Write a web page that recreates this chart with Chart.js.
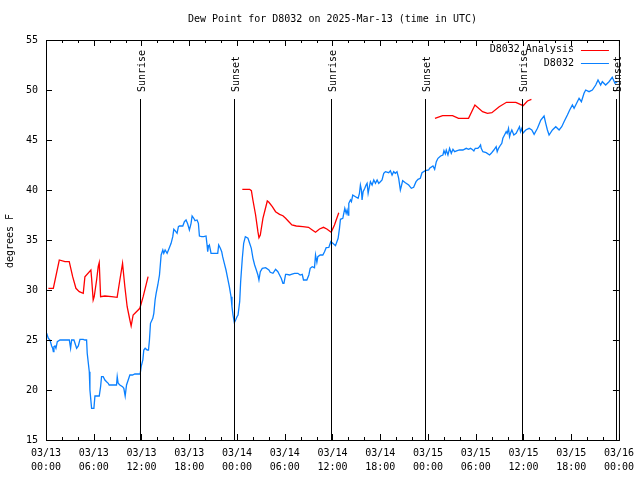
<!DOCTYPE html>
<html>
<head>
<meta charset="utf-8">
<title>Dew Point D8032</title>
<script src="https://cdn.jsdelivr.net/npm/chart.js@4.4.1/dist/chart.umd.min.js"></script>
<style>
  body { margin: 0; background: #ffffff; }
  canvas { display: block; }
</style>
</head>
<body>
<canvas id="graficoOrvalho" width="640" height="480"></canvas>
<script>
// 1. DADOS (horas desde 03/13 00:00 UTC)
const tempoModelo = [0.3, 0.92, 1.67, 2.38, 2.92, 3.35, 3.76, 4.18, 4.68, 4.89, 5.64, 5.73, 5.93, 6.06, 6.36, 6.56, 6.69, 6.86, 7.40, 8.24, 8.94, 9.28, 9.62, 9.70, 9.91, 10.20, 10.54, 10.70, 10.95, 11.79, 12.21, 12.83,
  18,
  24.67, 25.59, 25.81, 26.00, 26.34, 26.63, 26.76, 26.93, 27.26, 27.81, 28.01, 28.44, 28.85, 29.35, 29.77, 30.11, 30.52, 30.90, 31.45, 32.28, 32.99, 33.46, 33.87, 34.37, 34.87, 35.29, 35.84, 36.25, 36.79,
  42,
  48.88, 49.84, 51.09, 51.84, 53.10, 53.90, 54.86, 55.48, 56.03, 56.95, 57.87, 59.04, 59.96, 60.50, 61.00];
const orvalhoModelo = [30.17, 30.17, 33.0, 32.83, 32.83, 31.33, 30.17, 29.83, 29.67, 31.33, 32.0, 31.17, 29.0, 29.33, 31.0, 32.33, 32.73, 29.33, 29.4, 29.33, 29.27, 31.0, 32.67, 32.0, 30.33, 28.33, 27.0, 26.4, 27.5, 28.17, 29.33, 31.33,
  null,
  40.07, 40.07, 39.93, 39.0, 37.5, 35.83, 35.23, 35.5, 37.17, 38.9, 38.77, 38.33, 37.83, 37.57, 37.43, 37.17, 36.83, 36.5, 36.4, 36.33, 36.27, 36.0, 35.77, 36.1, 36.27, 36.1, 35.77, 36.5, 37.73,
  null,
  47.17, 47.43, 47.43, 47.17, 47.17, 48.5, 47.83, 47.67, 47.73, 48.33, 48.77, 48.77, 48.43, 48.9, 49.07];

const tempoEstacao = [0.08, 0.29, 0.50, 0.71, 0.84, 0.92, 1.00, 1.13, 1.25, 1.42, 1.76, 2.38, 2.93, 3.09, 3.22, 3.51, 3.85, 4.06, 4.27, 4.68, 4.89, 5.10, 5.18, 5.44, 5.52, 5.73, 6.02, 6.15, 6.69, 6.86, 6.98, 7.19, 7.40, 7.61, 7.82, 7.94, 8.24, 8.66, 8.86, 8.95, 9.07, 9.28, 9.62, 9.78, 9.95, 10.12, 10.33, 10.54, 10.87, 11.16, 11.58, 11.83,
  11.96, 12.17, 12.29, 12.46, 12.71, 12.88, 13.00, 13.13, 13.42, 13.55, 13.71, 13.84, 14.05, 14.26, 14.47, 14.68, 14.80, 14.97, 15.22, 15.39, 15.55, 15.72, 15.93, 16.06, 16.22, 16.47, 16.64, 16.77, 17.19, 17.39, 17.60, 17.81, 18.02, 18.23, 18.36, 18.57, 18.73, 18.98, 19.15, 19.28, 19.57, 19.82, 20.11, 20.24, 20.32, 20.41, 20.53, 20.66, 20.74, 21.37, 21.58, 21.70, 21.91, 22.08, 22.20, 22.41, 22.62, 22.83, 23.04, 23.25, 23.37, 23.50, 23.67, 23.83, 24.00,
  24.13, 24.34, 24.46, 24.67, 24.84, 25.05, 25.38, 25.59, 25.80, 26.01, 26.22, 26.43, 26.63, 26.76, 26.93, 27.18, 27.60, 28.01, 28.18, 28.52, 28.85, 29.14, 29.35, 29.56, 29.77, 29.90, 30.11, 30.27, 30.61, 30.82, 31.23, 31.65, 31.94, 32.20, 32.36, 32.78, 33.03, 33.20, 33.45, 33.74, 33.87, 34.04, 34.16, 34.46, 34.79, 35.00, 35.21, 35.54, 35.79,
  36.04, 36.38, 36.71, 36.88, 37.00, 37.30, 37.42, 37.55, 37.72, 37.84, 37.97, 38.05, 38.26, 38.38, 38.55, 38.89, 39.22, 39.39, 39.51, 39.64, 39.72, 39.85, 40.06, 40.22, 40.35, 40.48, 40.64, 40.77, 40.98, 41.19, 41.40, 41.61, 41.81, 42.02, 42.23, 42.44, 42.65, 43.07, 43.28, 43.49, 43.69, 43.90, 44.11, 44.32, 44.53, 44.66, 44.82, 45.16, 45.58, 45.91, 46.20, 46.50, 46.75, 47.04, 47.25, 47.67, 48.09,
  48.21, 48.63, 48.84, 49.05, 49.26, 49.59, 49.88, 50.01, 50.18, 50.30, 50.51, 50.72, 50.93, 51.14, 51.35, 51.68, 51.97, 52.39, 52.81, 53.10, 53.35, 53.65, 53.77, 53.94, 54.27, 54.48, 54.61, 54.69, 54.90, 55.32, 55.74, 55.95, 56.28, 56.57, 56.70, 56.87, 57.12, 57.28, 57.41, 57.62, 57.83, 57.95, 58.12, 58.25, 58.37, 58.54, 58.79, 59.08, 59.29, 59.50, 59.63, 59.80, 59.92,
  60.29, 60.71, 61.05, 61.34, 61.76, 62.18, 62.59, 62.80, 63.01, 63.22, 63.64, 64.06, 64.48, 64.81, 65.10, 65.52, 65.81, 66.15, 66.36, 66.57, 66.99, 67.28, 67.61, 67.82, 68.24, 68.66, 69.08, 69.37, 69.70, 69.91, 70.33, 70.75, 71.16, 71.50, 71.80];
const orvalhoEstacao = [25.67, 25.17, 25.0, 24.4, 24.17, 23.83, 24.33, 24.4, 24.17, 24.83, 25.0, 25.0, 25.0, 24.17, 25.0, 25.0, 24.17, 24.4, 25.07, 25.07, 25.0, 25.0, 23.67, 21.83, 20.0, 18.17, 18.17, 19.4, 19.4, 20.33, 21.33, 21.33, 21.0, 20.83, 20.67, 20.5, 20.5, 20.5, 20.5, 21.33, 20.67, 20.5, 20.33, 20.17, 19.4, 20.5, 21.0, 21.5, 21.5, 21.6, 21.6, 21.6,
  22.33, 23.0, 24.0, 24.17, 24.0, 24.0, 25.0, 26.67, 27.17, 27.67, 29.0, 29.67, 30.5, 31.5, 33.5, 34.0, 33.67, 34.0, 33.67, 34.0, 34.33, 34.67, 35.33, 36.07, 35.93, 35.67, 36.33, 36.4, 36.4, 36.83, 37.0, 36.6, 36.0, 36.67, 37.4, 37.17, 36.93, 37.0, 36.67, 35.4, 35.33, 35.33, 35.4, 34.5, 33.83, 34.33, 34.5, 34.0, 33.67, 33.67, 33.67, 34.5, 34.17, 33.83, 33.33, 32.67, 32.0, 31.17, 30.33, 29.33, 28.33, 27.5, 26.73, 27.0, 27.33,
  27.5, 28.83, 30.83, 33.17, 34.67, 35.33, 35.17, 34.67, 34.17, 33.17, 32.5, 32.0, 31.5, 31.0, 31.83, 32.17, 32.23, 32.0, 31.77, 31.67, 32.07, 31.83, 31.5, 31.17, 30.67, 30.67, 31.57, 31.57, 31.5, 31.57, 31.67, 31.67, 31.5, 31.57, 31.0, 31.0, 31.5, 32.17, 32.33, 32.23, 33.5, 32.77, 33.33, 33.5, 33.5, 33.83, 34.23, 34.25, 34.83,
  34.67, 34.43, 35.17, 36.17, 37.07, 37.17, 37.67, 38.17, 37.67, 38.0, 37.5, 38.67, 39.0, 38.83, 39.5, 39.33, 39.17, 39.67, 40.5, 40.0, 39.0, 39.83, 40.17, 40.5, 40.67, 39.67, 40.33, 40.83, 40.5, 41.0, 40.67, 41.0, 40.67, 40.83, 41.0, 41.67, 41.83, 41.73, 41.93, 41.5, 41.83, 41.67, 41.83, 41.17, 40.0, 40.4, 40.93, 40.73, 40.5, 40.17, 40.27, 40.83, 41.07, 41.17, 41.73, 41.93, 42.0,
  42.17, 42.4, 42.07, 42.83, 43.17, 43.4, 43.5, 43.93, 43.6, 44.0, 43.5, 44.17, 43.67, 44.07, 43.83, 43.93, 44.0, 44.0, 44.17, 44.07, 44.17, 44.0, 43.9, 44.17, 44.17, 44.33, 44.5, 44.17, 43.83, 43.73, 43.5, 43.67, 44.0, 44.33, 43.83, 44.17, 44.5, 44.67, 45.17, 45.5, 45.83, 45.67, 46.17, 45.33, 45.67, 46.0, 45.5, 45.67, 46.0, 46.33, 45.83, 46.17, 45.67,
  46.0, 46.17, 46.0, 45.57, 46.17, 47.0, 47.4, 46.67, 46.0, 45.5, 46.0, 46.33, 46.0, 46.33, 46.83, 47.5, 48.0, 48.5, 48.17, 48.5, 49.17, 48.83, 49.67, 50.0, 49.83, 50.0, 50.5, 51.0, 50.5, 50.83, 50.5, 50.83, 51.27, 50.67, 50.83];

// nascer e pôr do sol (linhas verticais)
const tempoEventos = [11.8, 23.6, 35.8, 47.6, 59.85, 71.65];
const nomeEventos = ['Sunrise', 'Sunset', 'Sunrise', 'Sunset', 'Sunrise', 'Sunset'];
const topoEventos = 49.1;

// rótulos do eixo x (dia / hora)
const rotulosDia = ['03/13', '03/13', '03/13', '03/13', '03/14', '03/14', '03/14', '03/14', '03/15', '03/15', '03/15', '03/15', '03/16'];
const rotulosHora = ['00:00', '06:00', '12:00', '18:00', '00:00', '06:00', '12:00', '18:00', '00:00', '06:00', '12:00', '18:00', '00:00'];

const fonteGnuplot = '"DejaVu Sans Mono", "Liberation Mono", monospace';

function juntarPontos(tempos, valores) {
    return tempos.map((t, i) => ({ x: t, y: valores[i] }));
}

// 2. PLUGIN: moldura estilo gnuplot, linhas de eventos, textos e legenda
const molduraGnuplot = {
    id: 'molduraGnuplot',
    afterDatasetsDraw(chart) {
        const { ctx, chartArea: a, scales: { x, y } } = chart;
        ctx.save();
        ctx.strokeStyle = '#000000';
        ctx.lineWidth = 1;
        ctx.strokeRect(a.left + 0.5, a.top + 0.5, a.right - a.left, a.bottom - a.top);

        ctx.beginPath();
        // marcas do eixo y (esquerda e direita, para dentro)
        y.ticks.forEach(t => {
            const py = Math.round(y.getPixelForValue(t.value)) + 0.5;
            ctx.moveTo(a.left, py); ctx.lineTo(a.left + 6, py);
            ctx.moveTo(a.right, py); ctx.lineTo(a.right - 6, py);
        });
        // marcas do eixo x (baixo e cima), principais a cada 6h, menores a cada 2h
        for (let h = 0; h <= 72; h += 2) {
            const px = Math.round(x.getPixelForValue(h)) + 0.5;
            const tam = (h % 6 === 0) ? 6 : 3;
            ctx.moveTo(px, a.bottom); ctx.lineTo(px, a.bottom - tam);
            ctx.moveTo(px, a.top); ctx.lineTo(px, a.top + tam);
        }
        // linhas verticais de nascer/pôr do sol
        const yBase = y.getPixelForValue(15);
        const yTopo = Math.round(y.getPixelForValue(topoEventos));
        tempoEventos.forEach(t => {
            const px = Math.round(x.getPixelForValue(t)) + 0.5;
            ctx.moveTo(px, yBase); ctx.lineTo(px, yTopo);
        });
        ctx.stroke();

        ctx.fillStyle = '#000000';
        ctx.font = '10px ' + fonteGnuplot;

        // título
        ctx.textAlign = 'center';
        ctx.textBaseline = 'middle';
        ctx.fillText('Dew Point for D8032 on 2025-Mar-13 (time in UTC)', (a.left + a.right) / 2, 19);

        // rótulo do eixo y
        ctx.save();
        ctx.translate(10, (a.top + a.bottom) / 2 + 1);
        ctx.rotate(-Math.PI / 2);
        ctx.fillText('degrees F', 0, 0);
        ctx.restore();

        // nomes dos eventos (texto vertical acima de cada linha)
        tempoEventos.forEach((t, i) => {
            ctx.save();
            ctx.translate(Math.round(x.getPixelForValue(t)) + 2, yTopo - 7);
            ctx.rotate(-Math.PI / 2);
            ctx.textAlign = 'left';
            ctx.fillText(nomeEventos[i], 0, 0);
            ctx.restore();
        });

        // legenda dentro do gráfico, canto superior direito
        ctx.textAlign = 'right';
        chart.data.datasets.forEach((ds, i) => {
            const ly = a.top + 9.5 + i * 13.5;
            ctx.fillStyle = '#000000';
            ctx.fillText(ds.label, a.right - 45, ly);
            ctx.beginPath();
            ctx.strokeStyle = ds.borderColor;
            ctx.moveTo(a.right - 38, Math.round(ly) + 0.5);
            ctx.lineTo(a.right - 10, Math.round(ly) + 0.5);
            ctx.stroke();
        });
        ctx.restore();
    }
};

// 3. CONSTRUÇÃO DO GRÁFICO
const canvasGrafico = document.getElementById('graficoOrvalho').getContext('2d');

const graficoOrvalho = new Chart(canvasGrafico, {
    type: 'line',
    data: {
        datasets: [
            {
                label: 'D8032 Analysis',
                data: juntarPontos(tempoModelo, orvalhoModelo),
                borderColor: '#ff0000',
                borderWidth: 1.3,
                pointRadius: 0,
                spanGaps: false
            },
            {
                label: 'D8032',
                data: juntarPontos(tempoEstacao, orvalhoEstacao),
                borderColor: '#0a80ff',
                borderWidth: 1.3,
                pointRadius: 0
            }
        ]
    },
    options: {
        responsive: false,
        animation: false,
        layout: { padding: { top: 40, right: 20, left: 0, bottom: 0 } },
        plugins: {
            legend: { display: false },
            title: { display: false },
            tooltip: { enabled: false }
        },
        scales: {
            x: {
                type: 'linear',
                min: 0,
                max: 72,
                afterFit: escala => { escala.height = 40; },
                grid: { display: false, drawTicks: false },
                border: { display: false },
                ticks: {
                    stepSize: 6,
                    autoSkip: false,
                    maxRotation: 0,
                    padding: 6,
                    color: '#000000',
                    font: { family: fonteGnuplot, size: 10, lineHeight: 1.4 },
                    callback: (valor, indice) => [rotulosDia[indice], rotulosHora[indice]]
                }
            },
            y: {
                min: 15,
                max: 55,
                afterFit: escala => { escala.width = 46; },
                grid: { display: false, drawTicks: false },
                border: { display: false },
                ticks: {
                    stepSize: 5,
                    padding: 8,
                    color: '#000000',
                    font: { family: fonteGnuplot, size: 10 }
                }
            }
        }
    },
    plugins: [molduraGnuplot]
});
</script>
</body>
</html>
